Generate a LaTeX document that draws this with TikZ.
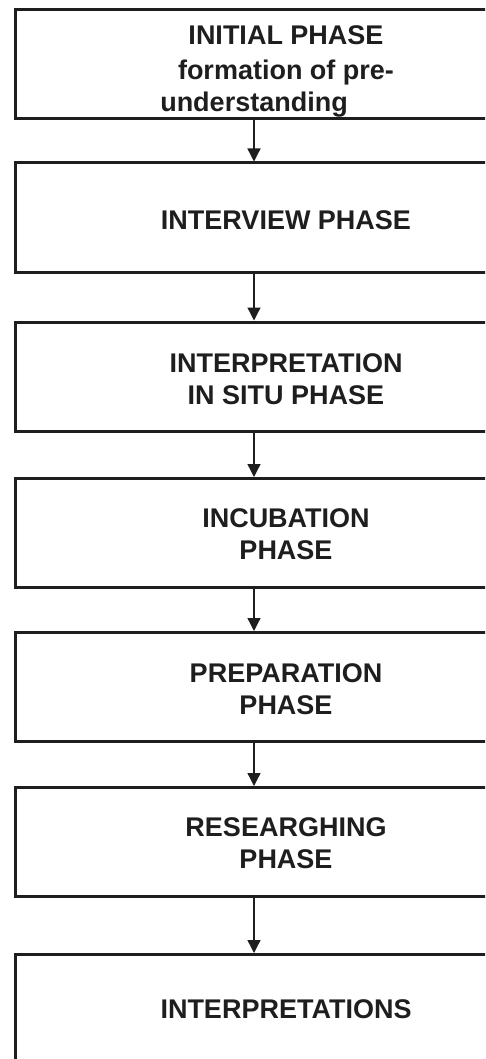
\documentclass[tikz,border=0pt]{standalone}
\usepackage{fontspec}
\setmainfont{Liberation Sans}
\usetikzlibrary{arrows.meta}
\definecolor{ink}{HTML}{1E1E1E}
\begin{document}
\begin{tikzpicture}[x=1pt,y=-1pt,
  phasebox/.style={draw=ink,line width=3pt,rectangle,minimum width=542pt,
    minimum height=109pt,inner sep=0pt},
  phasetext/.style={text=ink,align=center,inner sep=0pt,
    font=\fontsize{27}{32}\selectfont\bfseries},
  flow/.style={draw=ink,line width=1.3pt,-{Triangle[length=13pt,width=13pt]}}]
\useasboundingbox (0,0) rectangle (485,1059);
\clip (0,0) rectangle (485,1059);
\coordinate (ax) at (254,0);
\node[phasebox] (b1) at (286,64) {};
\node[phasebox] (b2) at (286,217.5) {};
\node[phasebox] (b3) at (286,376.5) {};
\node[phasebox] (b4) at (286,533) {};
\node[phasebox] (b5) at (286,687) {};
\node[phasebox] (b6) at (286,842) {};
\node[phasebox] (b7) at (286,1009) {};
\node[phasetext] (t1) at (286,71) {INITIAL PHASE\\[3pt]formation of pre-\\understanding\hspace*{64pt}};
\node[phasetext] (t2) at (286,220) {INTERVIEW PHASE};
\node[phasetext] (t3) at (286,379) {INTERPRETATION\\IN SITU PHASE};
\node[phasetext] (t4) at (286,534) {INCUBATION\\PHASE};
\node[phasetext] (t5) at (286,689) {PREPARATION\\PHASE};
\node[phasetext] (t6) at (286,843) {RESEARGHING\\PHASE};
\node[phasetext] (t7) at (286,1009) {INTERPRETATIONS};
\draw[flow] (b1.south -| ax) -- (b2.north -| ax);
\draw[flow] (b2.south -| ax) -- (b3.north -| ax);
\draw[flow] (b3.south -| ax) -- (b4.north -| ax);
\draw[flow] (b4.south -| ax) -- (b5.north -| ax);
\draw[flow] (b5.south -| ax) -- (b6.north -| ax);
\draw[flow] (b6.south -| ax) -- (b7.north -| ax);
\end{tikzpicture}
\end{document}
